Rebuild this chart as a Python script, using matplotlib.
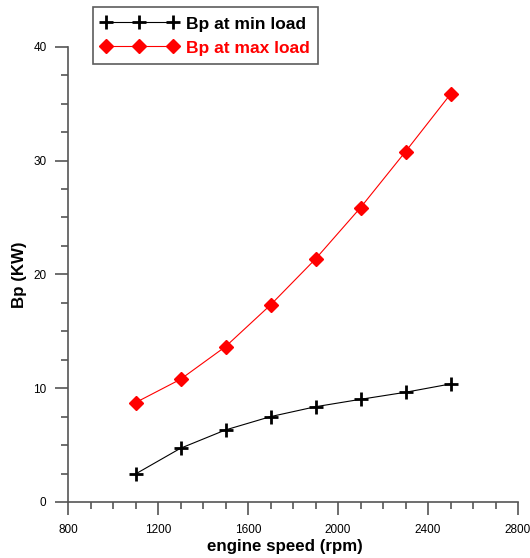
import matplotlib
matplotlib.use("Agg")
import matplotlib.pyplot as plt
from matplotlib.ticker import MultipleLocator

plt.rcParams['font.family'] = ['Liberation Sans', 'DejaVu Sans']

speed = [1100, 1300, 1500, 1700, 1900, 2100, 2300, 2500]
bp_min = [2.46, 4.72, 6.33, 7.5, 8.37, 9.02, 9.64, 10.37]
bp_max = [8.73, 10.78, 13.65, 17.31, 21.35, 25.86, 30.78, 35.83]
xticks = [800, 1200, 1600, 2000, 2400, 2800]
yticks = [0, 10, 20, 30, 40]

fig = plt.figure(figsize=(5.30, 5.58), dpi=100)
L, R, T, B = 68, 518, 46.7, 502
ax = fig.add_axes([L/530, 1-B/558, (R-L)/530, (B-T)/558])

ax.plot(speed, bp_min, color='black', lw=0.8, marker='+', ms=10.5, mew=2.0,
        label='Bp at min load', clip_on=False)
ax.plot(speed, bp_max, color='red', lw=0.8, marker='D', ms=7.5, mec='red', mfc='red',
        label='Bp at max load', clip_on=False)

ax.set_xlim(800, 2800)
ax.set_ylim(0, 40)
ax.set_xticks(xticks)
ax.set_yticks(yticks)
ax.xaxis.set_minor_locator(MultipleLocator(100))
ax.yaxis.set_minor_locator(MultipleLocator(2.5))
for s in ['top', 'right']:
    ax.spines[s].set_visible(False)
for s in ['left', 'bottom']:
    ax.spines[s].set_color('#555555')
    ax.spines[s].set_linewidth(1.2)
ax.tick_params(which='major', direction='out', length=9.5, width=1.2, color='#555555',
               labelsize=8.5, pad=6)
ax.tick_params(which='minor', direction='out', length=5, width=1.2, color='#555555')

ax.set_xlabel('engine speed (rpm)', fontsize=12.2, fontweight='bold')
ax.set_ylabel('Bp (KW)', fontsize=12.2, fontweight='bold')
ax.xaxis.set_label_coords((285-L)/(R-L), -(538.5-B)/(B-T))
ax.yaxis.set_label_coords((27-L)/(R-L), 0.5)

leg = ax.legend(loc='upper left', bbox_to_anchor=(92.7/530, 1-6.7/558), bbox_transform=fig.transFigure,
                numpoints=3, prop={'weight': 'bold', 'size': 12.5},
                frameon=True, fancybox=False, edgecolor='#333333', handlelength=4.44,
                handleheight=1.0, handletextpad=0.47, borderpad=0.47, labelspacing=0.44,
                borderaxespad=0)
leg.get_frame().set_linewidth(1.2)
for t, c in zip(leg.get_texts(), ['black', 'red']):
    t.set_color(c)

fig.savefig('out.png', dpi=100)
